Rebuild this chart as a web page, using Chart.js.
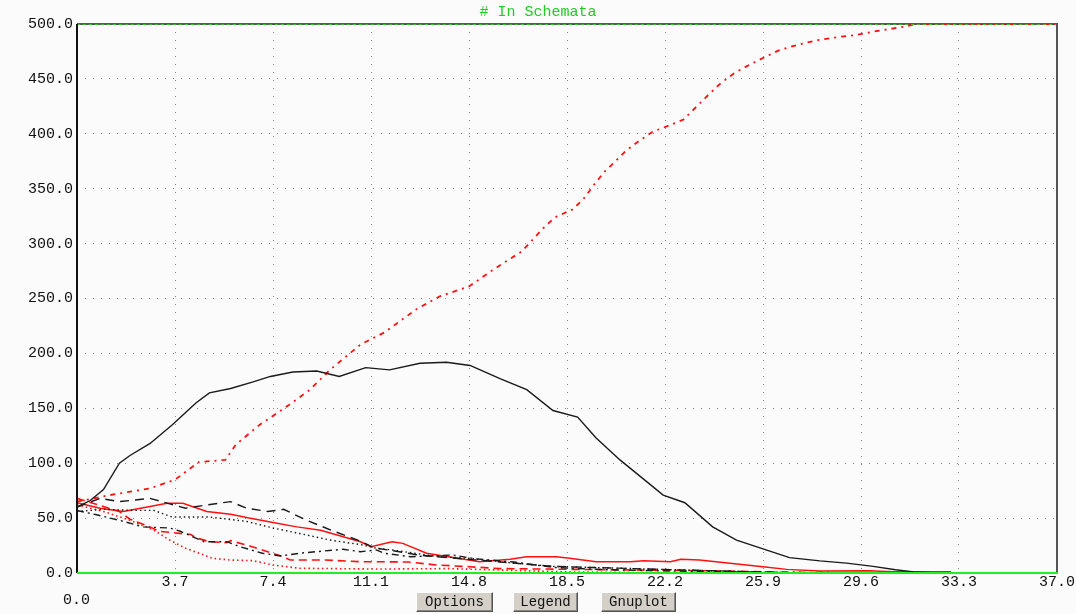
<!DOCTYPE html>
<html>
<head>
<meta charset="utf-8">
<script src="https://cdn.jsdelivr.net/npm/chart.js@4"></script>
<style>
  html, body { margin: 0; padding: 0; background: #fbfbfb; }
  #wrap { position: relative; width: 1076px; height: 614px; overflow: hidden; }
  #title {
    position: absolute; left: 0; width: 1076px; top: 4px; text-align: center;
    font: 15px 'Liberation Mono', monospace; color: #22cc22;
  }
  #zero {
    position: absolute; left: 63px; top: 592px;
    font: 15px 'Liberation Mono', monospace; color: #111;
  }
  .btn {
    position: absolute; top: 592px; height: 20px; box-sizing: border-box;
    background: #d4d0c8; font: 14px 'Liberation Mono', monospace; color: #111;
    border: 1px solid; border-color: #fff #555 #555 #fff;
    box-shadow: inset -1px -1px 0 #888;
    text-align: center; line-height: 18px;
  }
</style>
</head>
<body>
<div id="wrap">
  <canvas id="c" width="1076" height="614"></canvas>
  <div id="title"># In Schemata</div>
  <div id="zero">0.0</div>
  <div class="btn" style="left:416px;width:77px">Options</div>
  <div class="btn" style="left:513px;width:65px">Legend</div>
  <div class="btn" style="left:601px;width:75px">Gnuplot</div>
</div>
<script>
'use strict';

// ---- data ----
const xTicks = [0, 3.7, 7.4, 11.1, 14.8, 18.5, 22.2, 25.9, 29.6, 33.3, 37.0];
const yTicks = [0, 50, 100, 150, 200, 250, 300, 350, 400, 450, 500];

const riseX = [0, 1.25, 2.75, 3.7, 4.6, 5.6, 6.0, 6.9, 8.0, 8.8, 9.55, 10.7, 11.6, 12.8, 13.7, 14.8, 15.7, 16.8, 17.6, 18.05, 18.7, 19.1, 19.5, 19.9, 20.75, 21.25, 21.75, 22.4, 22.9, 23.4, 23.9, 24.3, 24.8, 25.4, 25.9, 26.5, 27.2, 27.9, 28.7, 29.4, 30.3, 31.1, 31.7, 37];
const riseY = [65, 71, 77, 85, 101, 103, 117, 135, 153, 167, 185, 208, 219, 240, 252, 261, 276, 293, 314, 324, 331, 340, 353, 365, 385, 394, 402, 408, 413, 425, 437, 446, 455, 463, 469, 476, 481, 485, 488, 490, 494, 497, 500, 500];

const peakX = [0, 0.5, 1.0, 1.6, 2.0, 2.76, 3.6, 4.5, 5.0, 5.8, 6.65, 7.3, 8.15, 9.05, 9.9, 10.9, 11.8, 12.95, 13.95, 14.84, 15.97, 16.98, 17.97, 18.9, 19.6, 20.5, 22.13, 22.95, 24.0, 24.9, 25.9, 26.9, 28.05, 29.05, 30.06, 30.9, 31.6, 32.5];
const peakY = [60, 66, 76, 100, 107, 118, 135, 155, 164, 168, 174, 179, 183, 184, 179, 187, 185, 191, 192, 189, 177, 167, 148, 142, 123, 103, 71, 64, 42, 30, 22, 14, 11, 9, 6, 3, 1, 0];

const blkDashX = [0, 0.87, 1.6, 2.75, 3.5, 4.1, 4.9, 5.8, 6.4, 7.2, 7.8, 8.67, 9.7, 10.7, 11.2, 12.0, 13.0, 14.0, 15.0, 16.5, 18.0, 19.5, 21.0, 22.5, 24.0, 25.5, 27.0];
const blkDashY = [60, 68, 65, 68, 63, 59, 62, 65, 59, 56, 58, 48, 38, 29, 23, 20, 16, 14, 12, 9, 6, 5, 4, 3, 2, 1, 0];

const redSolidX = [0, 0.87, 1.75, 2.4, 3.4, 4.0, 4.9, 5.8, 6.5, 7.4, 8.3, 9.2, 10.05, 10.7, 11.1, 11.9, 12.3, 13.2, 13.96, 15.2, 16.35, 16.98, 18.1, 18.6, 19.6, 20.9, 21.4, 22.4, 22.8, 23.5, 24.65, 25.9, 26.8, 28.05, 29.9, 30.8, 33.0];
const redSolidY = [64, 59, 56, 59, 63.5, 63.5, 56, 53.5, 50, 46, 42, 39, 33, 28.5, 24, 28.5, 27, 18, 15, 10.3, 12.5, 14.8, 14.8, 13.4, 10.3, 10.3, 11.2, 10.3, 12.5, 11.8, 8.8, 5.7, 3.3, 1.8, 2, 1.2, 1.2];

const blkDotX = [0, 1.0, 2.25, 2.9, 3.6, 5.0, 6.4, 7.4, 8.4, 9.55, 10.8, 11.3, 11.9, 13.6, 14.8, 15.3, 16.5, 18.0, 19.5, 21.0, 22.5, 24.0, 25.5, 27.0];
const blkDotY = [56, 58, 57, 57, 51, 51, 47, 41, 36, 30, 25.5, 22.5, 21, 15, 13.4, 12, 9, 6, 5, 4, 3, 2, 1, 0];

const blkDashDotX = [0, 0.74, 1.6, 2.5, 3.5, 3.9, 4.8, 5.65, 6.15, 7.0, 7.7, 8.4, 9.3, 10.05, 10.7, 11.3, 11.6, 12.6, 14.2, 15.0, 16.5, 18.0, 20.0, 22.0, 25.0, 28.0, 30.0];
const blkDashDotY = [57, 53, 48, 42, 41, 38, 28.5, 28.5, 24, 18, 15.5, 18, 20, 21.6, 19.4, 21, 18, 14.8, 16.4, 13, 10, 5, 3, 2, 1, 0.5, 0];

const redDashX = [0, 1.6, 2.0, 2.75, 3.1, 4.3, 4.5, 5.0, 5.65, 5.8, 6.4, 7.0, 7.7, 8.05, 9.4, 10.7, 11.3, 12.5, 13.6, 14.8, 16.0, 18.0, 20.0, 22.0, 24.0, 26.0, 28.0];
const redDashY = [68, 56, 49, 42, 38, 35, 32, 28.5, 27.6, 29.4, 25.5, 21, 15.5, 11.8, 11.8, 10.3, 10.3, 10, 7.3, 5.7, 4, 3.5, 3, 2.5, 2, 1, 0];

const redDotX = [0, 1.0, 2.0, 2.9, 3.5, 4.1, 4.8, 5.1, 5.8, 6.65, 7.4, 8.4, 11.3, 14.0, 14.8, 17.0, 18.5, 21.0, 24.0];
const redDotY = [62, 56, 48, 39, 30, 22.5, 16.4, 13.4, 11.8, 11.2, 7.3, 4.3, 3.6, 4, 3.5, 2, 1, 0.5, 0];

const schemataX = [0, 37];
const schemataY = [500, 500];

// ---- helpers ----
const pts = (xs, ys) => xs.map((x, i) => ({ x, y: ys[i] }));
const RED = '#ff1010';
const BLK = '#1a1a1a';
const line = (label, xs, ys, color, dash, width) => ({
  label,
  data: pts(xs, ys),
  borderColor: color,
  borderWidth: width || 1.4,
  borderDash: dash || [],
  pointRadius: 0,
  tension: 0,
  fill: false,
});

const frame = {
  id: 'frame',
  afterDatasetsDraw(chart) {
    const { ctx, chartArea: a } = chart;
    ctx.save();
    ctx.lineWidth = 2;
    ctx.strokeStyle = '#111';
    ctx.beginPath(); ctx.moveTo(a.left, a.top); ctx.lineTo(a.left, a.bottom); ctx.stroke();
    ctx.strokeStyle = '#555';
    ctx.beginPath(); ctx.moveTo(a.right, a.top - 1); ctx.lineTo(a.right, a.bottom); ctx.stroke();
    ctx.strokeStyle = '#22ee22';
    ctx.beginPath(); ctx.moveTo(a.left, a.bottom); ctx.lineTo(a.right + 1, a.bottom); ctx.stroke();
    ctx.restore();
  },
  beforeDatasetsDraw(chart) {
    const { ctx, chartArea: a } = chart;
    ctx.save();
    ctx.lineWidth = 1.5;
    ctx.strokeStyle = '#222';
    ctx.beginPath(); ctx.moveTo(a.left, a.top); ctx.lineTo(a.right, a.top); ctx.stroke();
    ctx.restore();
  }
};

const mono = { family: "'Liberation Mono', monospace", size: 15 };

new Chart(document.getElementById('c'), {
  type: 'line',
  data: {
    datasets: [
      line('# In Schemata', schemataX, schemataY, '#22ee22', [3, 3], 1.5),
      line('peak', peakX, peakY, BLK, [], 1.4),
      line('black dashed', blkDashX, blkDashY, BLK, [9, 6]),
      line('black dotted', blkDotX, blkDotY, BLK, [1.5, 3]),
      line('black dash-dot', blkDashDotX, blkDashDotY, BLK, [7, 4, 2, 4]),
      line('red solid', redSolidX, redSolidY, RED, [], 1.5),
      line('red dashed', redDashX, redDashY, RED, [8, 5], 1.6),
      line('red dotted', redDotX, redDotY, RED, [1.5, 3], 1.6),
      line('red dash-dot', riseX, riseY, RED, [5, 5, 2, 5], 1.8),
    ]
  },
  options: {
    responsive: false,
    animation: false,
    events: [],
    layout: { padding: { left: 0, right: 19, top: 24, bottom: 0 } },
    plugins: {
      legend: { display: false },
      title: { display: false },
      tooltip: { enabled: false },
    },
    scales: {
      x: {
        type: 'linear',
        min: 0, max: 37,
        afterBuildTicks: s => { s.ticks = xTicks.map(v => ({ value: v })); },
        afterFit: s => { s.height = 41; },
        grid: { color: '#888', drawTicks: false, lineWidth: 1 },
        border: { display: false, dash: [1, 7] },
        ticks: {
          font: mono, color: '#111', padding: 0, maxRotation: 0, autoSkip: false,
          callback: v => (v === 0 ? '' : v.toFixed(1)),
        },
      },
      y: {
        min: 0, max: 500,
        afterBuildTicks: s => { s.ticks = yTicks.map(v => ({ value: v })); },
        afterFit: s => { s.width = 77; },
        grid: { color: '#888', drawTicks: false, lineWidth: 1 },
        border: { display: false, dash: [1, 7] },
        ticks: {
          font: mono, color: '#111', padding: 4,
          callback: v => v.toFixed(1),
        },
      },
    },
  },
  plugins: [frame],
});
</script>
</body>
</html>
